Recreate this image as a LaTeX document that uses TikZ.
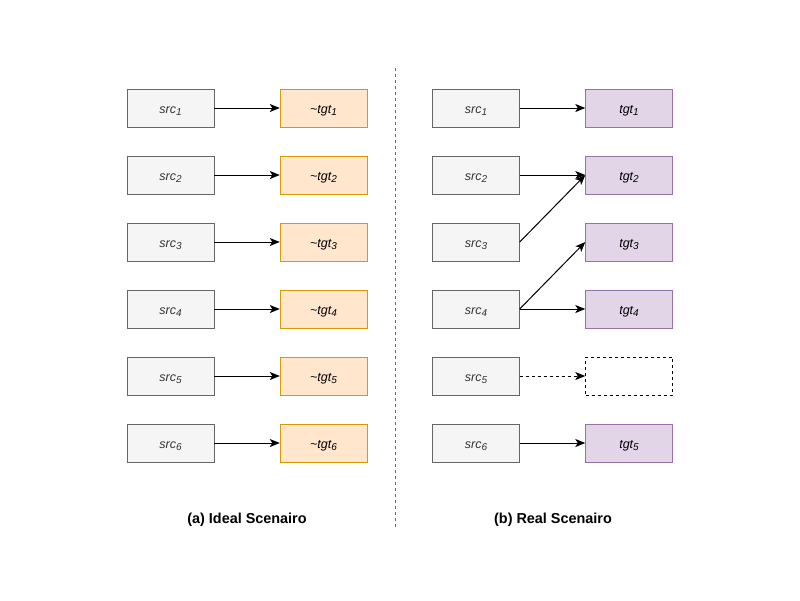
\documentclass[tikz,border=0pt]{standalone}
\usepackage{fontspec}
\setmainfont{Liberation Sans}
\usepackage{xcolor}
\usetikzlibrary{arrows.meta, positioning}
\definecolor{srcfill}{HTML}{F5F5F5}
\definecolor{srcline}{HTML}{666666}
\definecolor{srctext}{HTML}{333333}
\definecolor{idealfill}{HTML}{FFE6CC}
\definecolor{idealline}{HTML}{D79B00}
\definecolor{realfill}{HTML}{E1D5E7}
\definecolor{realline}{HTML}{9673A6}
\newcommand{\lowidx}[1]{\raisebox{-0.45ex}{\fontsize{10}{12}\selectfont #1}}

\begin{document}
\begin{tikzpicture}[
    x=1pt, y=-1pt,
    box/.style={draw=#1line, fill=#1fill, minimum width=87pt, minimum height=38pt, inner sep=0pt, text height=10pt, text depth=0pt, font=\fontsize{12.5}{14}\selectfont\itshape},
    srcbox/.style={box=src, text=srctext},
    arrow/.style={-{Stealth[length=10pt, width=8pt, inset=2.5pt]}, line width=1pt},
    caption/.style={font=\fontsize{14.4}{17}\selectfont\bfseries}
]
    \useasboundingbox (0,0) rectangle (800,600);

    % Ideal scenario
    \node[srcbox] (isrc1) at (170.5,108) {src\lowidx{1}};
    \node[srcbox] (isrc2) at (170.5,175) {src\lowidx{2}};
    \node[srcbox] (isrc3) at (170.5,242) {src\lowidx{3}};
    \node[srcbox] (isrc4) at (170.5,309) {src\lowidx{4}};
    \node[srcbox] (isrc5) at (170.5,376) {src\lowidx{5}};
    \node[srcbox] (isrc6) at (170.5,443) {src\lowidx{6}};
    \node[box=ideal] (itgt1) at (323.5,108) {\textasciitilde tgt\lowidx{1}};
    \node[box=ideal] (itgt2) at (323.5,175) {\textasciitilde tgt\lowidx{2}};
    \node[box=ideal] (itgt3) at (323.5,242) {\textasciitilde tgt\lowidx{3}};
    \node[box=ideal] (itgt4) at (323.5,309) {\textasciitilde tgt\lowidx{4}};
    \node[box=ideal] (itgt5) at (323.5,376) {\textasciitilde tgt\lowidx{5}};
    \node[box=ideal] (itgt6) at (323.5,443) {\textasciitilde tgt\lowidx{6}};
    \foreach \i in {1,...,6}
        \draw[arrow] (isrc\i) -- (itgt\i);

    % Real scenario
    \node[srcbox] (rsrc1) at (476,108) {src\lowidx{1}};
    \node[srcbox] (rsrc2) at (476,175) {src\lowidx{2}};
    \node[srcbox] (rsrc3) at (476,242) {src\lowidx{3}};
    \node[srcbox] (rsrc4) at (476,309) {src\lowidx{4}};
    \node[srcbox] (rsrc5) at (476,376) {src\lowidx{5}};
    \node[srcbox] (rsrc6) at (476,443) {src\lowidx{6}};
    \node[box=real] (rtgt1) at (629,108) {tgt\lowidx{1}};
    \node[box=real] (rtgt2) at (629,175) {tgt\lowidx{2}};
    \node[box=real] (rtgt3) at (629,242) {tgt\lowidx{3}};
    \node[box=real] (rtgt4) at (629,309) {tgt\lowidx{4}};
    \node[draw, dashed, minimum width=87pt, minimum height=38pt] (rempty) at (629,376) {};
    \node[box=real] (rtgt5) at (629,443) {tgt\lowidx{5}};
    \draw[arrow] (rsrc1) -- (rtgt1);
    \draw[arrow] (rsrc2) -- (rtgt2);
    \draw[arrow] (rsrc3.east) -- (rtgt2.west);
    \draw[arrow] (rsrc4.east) -- (rtgt3.west);
    \draw[arrow] (rsrc4) -- (rtgt4);
    \draw[arrow, dashed] (rsrc5) -- (rempty);
    \draw[arrow] (rsrc6) -- (rtgt5);

    % Divider and captions
    \coordinate (top) at (395,68);
    \coordinate (bottom) at (395,528);
    \draw[dash pattern=on 3pt off 3pt, line width=0.8pt, srcline] (top) -- (bottom);
    \node[caption] (capa) at (247,520) {(a) Ideal Scenairo};
    \node[caption] (capb) at (553,520) {(b) Real Scenairo};
\end{tikzpicture}
\end{document}
